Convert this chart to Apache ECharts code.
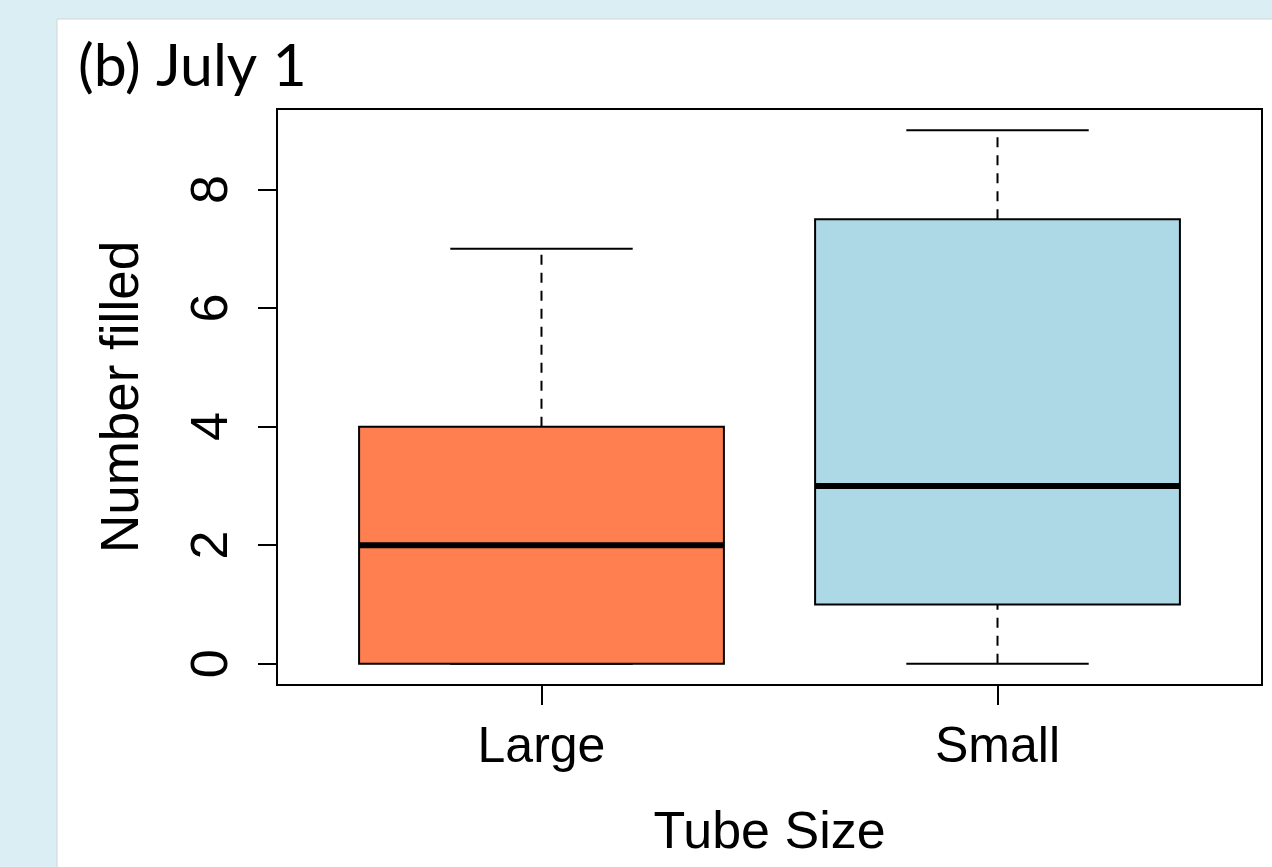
<!DOCTYPE html>
<html>
<head>
<meta charset="utf-8">
<script src="https://cdn.jsdelivr.net/npm/echarts@6/dist/echarts.min.js"></script>
<style>
    html, body {margin: 0; padding: 0; background: #dbeef4;}
    #chart {width: 1272px; height: 867px;}
</style>
</head>
<body>
<div id="chart"></div>
<script>
// data
const categories = ['Large', 'Small'];
const positions = [1, 2];
const whiskerLow = [0, 0];
const q1 = [0, 1];
const medians = [2, 3];
const q3 = [4, 7.5];
const whiskerHigh = [7, 9];
const boxColors = ['#ff7f50', '#add8e6'];
const yTicks = [0, 2, 4, 6, 8];

const boxData = positions.map((p, i) => [p, whiskerLow[i], q1[i], medians[i], q3[i], whiskerHigh[i]]);

const BOX_W = 0.8;
const CAP_W = 0.4;
const font = "'Liberation Sans', Arial, sans-serif";

const renderBox = (params, api) => {
    const x = api.value(0);
    const lo = api.value(1), b = api.value(2), med = api.value(3), t = api.value(4), hi = api.value(5);
    const pt = (vx, vy) => api.coord([vx, vy]);
    const left = pt(x - BOX_W / 2, t), right = pt(x + BOX_W / 2, b);
    const black = '#000';
    const dash = {stroke: black, lineWidth: 2, lineDash: [10, 8]};
    const solid = {stroke: black, lineWidth: 2};
    const line = (a, c, style) => ({
        type: 'line',
        shape: {x1: a[0], y1: a[1], x2: c[0], y2: c[1]},
        style: style
    });
    return {
        type: 'group',
        children: [
            line(pt(x, t), pt(x, hi), dash),
            line(pt(x, lo), pt(x, b), dash),
            line(pt(x - CAP_W / 2, hi), pt(x + CAP_W / 2, hi), solid),
            line(pt(x - CAP_W / 2, lo), pt(x + CAP_W / 2, lo), solid),
            {
                type: 'rect',
                shape: {x: left[0], y: left[1], width: right[0] - left[0], height: right[1] - left[1]},
                style: {fill: boxColors[params.dataIndex], stroke: black, lineWidth: 2}
            },
            line(pt(x - BOX_W / 2, med), pt(x + BOX_W / 2, med), {stroke: black, lineWidth: 6})
        ]
    };
};

const chart = echarts.init(document.getElementById('chart'));
chart.setOption({
    backgroundColor: '#dbeef4',
    animation: false,
    graphic: [
        {
            type: 'rect',
            shape: {x: 57, y: 19, width: 1230, height: 860},
            style: {fill: '#fff', stroke: '#d4d4d4', lineWidth: 1},
            z: -10
        },
        {
            type: 'text',
            left: 78,
            top: 37,
            style: {text: '(b) July 1', font: "59px Lato, 'Open Sans', sans-serif", fill: '#000'}
        }
    ],
    grid: {
        left: 277, top: 109, right: 10, bottom: 182,
        show: true, borderColor: '#000', borderWidth: 2, backgroundColor: 'transparent'
    },
    xAxis: {
        type: 'value',
        min: 0.42,
        max: 2.58,
        name: 'Tube Size',
        nameLocation: 'middle',
        nameGap: 123,
        nameTextStyle: {fontFamily: font, fontSize: 52, color: '#000'},
        axisLine: {show: false, onZero: false},
        splitLine: {show: false},
        axisTick: {show: true, length: 20, customValues: positions, lineStyle: {color: '#000', width: 2}},
        axisLabel: {
            customValues: positions,
            margin: 38,
            fontFamily: font, fontSize: 50, color: '#000',
            formatter: v => categories[positions.indexOf(v)] || ''
        }
    },
    yAxis: {
        type: 'value',
        min: -0.36,
        max: 9.36,
        name: 'Number filled',
        nameLocation: 'middle',
        nameRotate: 90,
        nameGap: 127,
        nameTextStyle: {fontFamily: font, fontSize: 53, color: '#000'},
        axisLine: {show: false, onZero: false},
        splitLine: {show: false},
        axisTick: {show: true, length: 19, customValues: yTicks, lineStyle: {color: '#000', width: 2}},
        axisLabel: {
            customValues: yTicks,
            rotate: 90,
            margin: 38,
            fontFamily: font, fontSize: 52, color: '#000'
        }
    },
    series: [{
        type: 'custom',
        renderItem: renderBox,
        encode: {x: 0, y: [1, 2, 3, 4, 5]},
        data: boxData
    }]
});
</script>
</body>
</html>
